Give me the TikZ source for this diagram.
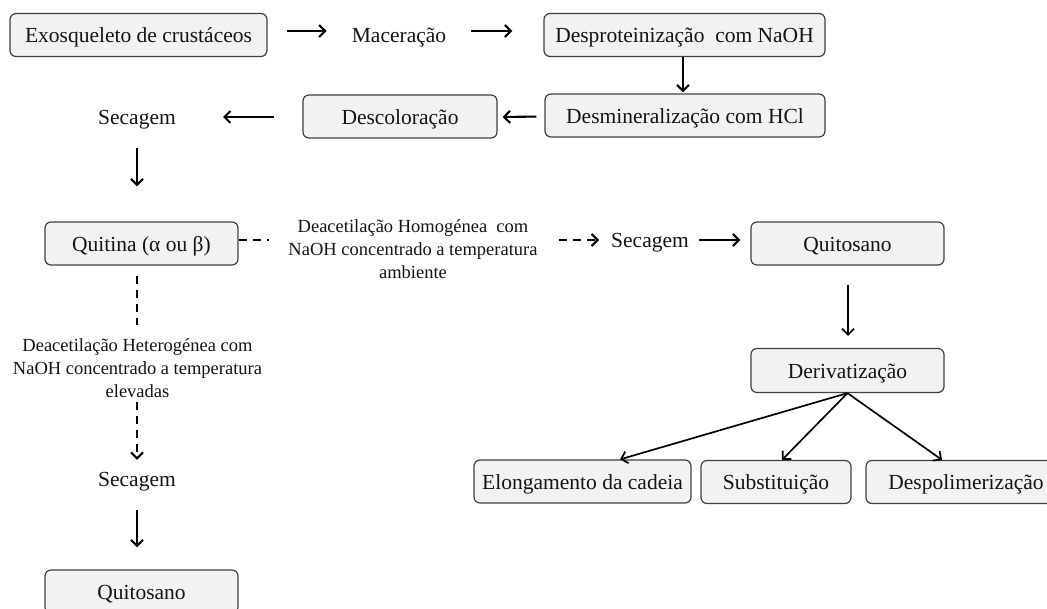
\documentclass[tikz,border=0pt]{standalone}
\usepackage{fontspec}
\setmainfont{Liberation Serif}
\usetikzlibrary{arrows.meta}
\definecolor{boxfill}{HTML}{F2F2F2}
\definecolor{boxline}{HTML}{404040}
\definecolor{ink}{HTML}{141414}
\begin{document}
\begin{tikzpicture}[x=1pt,y=-1pt,
  every node/.style={text=ink},
  stagebox/.style={draw=boxline, fill=boxfill, line width=1.2pt, rounded corners=6pt,
    minimum height=43pt, inner sep=0pt, text height=15pt, text depth=0pt,
    font=\fontsize{21.5}{24}\selectfont},
  label/.style={inner sep=1pt, text height=15pt, text depth=0pt,
    font=\fontsize{21.5}{24}\selectfont},
  note/.style={inner sep=1pt, align=center, font=\fontsize{18.5}{23}\selectfont},
  flow/.style={draw=black, line width=2.1pt, -{Straight Barb[length=6pt,width=12pt]}},
  thinflow/.style={draw=black, line width=1.7pt, -{Straight Barb[length=6pt,width=12pt]}},
  dashflow/.style={draw=black, line width=2.1pt, dash pattern=on 8pt off 6pt},
]
\useasboundingbox (0,0) rectangle (1047,608);
\clip (0,0) rectangle (1047,608);

% vertical guide of the left column
\coordinate (lx) at (137,0);

% first stages
\node[stagebox, minimum width=257pt] (exo) at (138.5,35) {Exosqueleto de crustáceos};
\node[label] (mac) at (399,35) {Maceração};
\node[stagebox, minimum width=281pt] (desp) at (684.5,35) {Desproteinização\ \ com NaOH};
\node[stagebox, minimum width=280pt] (desm) at (685,115.5) {Desmineralização com HCl};
\node[stagebox, minimum width=194pt] (desc) at (400,116.5) {Descoloração};
\node[label] (sec1) at (137,117) {Secagem};
\node[stagebox, minimum width=193pt] (quit) at (141.5,243.5) {Quitina (α ou β)};

% homogeneous route
\node[note] (hom) at (413,249) {Deacetilação Homogénea\ \ com\\NaOH concentrado a temperatura\\ambiente};
\node[label] (sec2) at (650,240) {Secagem};
\node[stagebox, minimum width=193pt] (qtr) at (847.5,243.5) {Quitosano};
\node[stagebox, minimum width=193pt, minimum height=44pt] (der) at (847.5,370.5) {Derivatização};
\node[stagebox, minimum width=217pt] (elo) at (582.5,481.5) {Elongamento da cadeia};
\node[stagebox, minimum width=150pt] (sub) at (776,482) {Substituição};
\node[stagebox, minimum width=200pt] (dpo) at (966,482) {Despolimerização};

% heterogeneous route
\node[note] (het) at (137.5,368) {Deacetilação Heterogénea com\\NaOH concentrado a temperatura\\elevadas};
\node[label] (sec3) at (137,479) {Secagem};
\node[stagebox, minimum width=193pt] (qtl) at (141.5,591.5) {Quitosano};

% top chain
\draw[flow, shorten <=19pt, shorten >=24pt] ([yshift=4pt]exo.east) -- ([yshift=4pt]mac.west);
\draw[flow, shorten <=24pt, shorten >=31pt] ([yshift=4pt]mac.east) -- ([yshift=4pt]desp.west);
\draw[flow, shorten >=1pt] (desp.south -| 683,0) -- (desm.north -| 683,0);
\draw[flow, shorten <=8pt, shorten >=5pt] ([yshift=-1pt]desm.west) -- ([yshift=-0.5pt]desc.east);
\draw[flow, shorten <=28pt, shorten >=46pt] (desc.west |- sec1) -- (sec1.east);
\draw[flow, shorten <=22.5pt, shorten >=35pt] (sec1.south -| lx) -- (quit.north -| lx);

% homogeneous route connectors
\draw[dashflow] ([yshift=3.5pt]quit.east) -- ([yshift=3.5pt, xshift=30pt]quit.east);
\draw[dashflow, -{Straight Barb[length=6pt,width=12pt]}, shorten <=20pt, shorten >=11pt]
  (hom.east |- sec2) -- (sec2.west);
\draw[flow, shorten <=9pt, shorten >=10pt] (sec2.east) -- (qtr.west |- sec2);
\draw[thinflow, shorten <=19pt, shorten >=12pt] (qtr.south -| 848,0) -- (der.north -| 848,0);
\draw[thinflow] (der.south) -- ([xshift=37.5pt]elo.north);
\draw[thinflow] (der.south) -- ([xshift=6pt]sub.north);
\draw[thinflow] (der.south) -- ([xshift=-24pt]dpo.north);

% heterogeneous route connectors
\draw[dashflow, shorten <=10pt, shorten >=12pt] (quit.south -| lx) -- (het.north -| lx);
\draw[dashflow, -{Straight Barb[length=6pt,width=12pt]}, shorten <=3pt, shorten >=10.5pt]
  (het.south -| lx) -- (sec3.north -| lx);
\draw[flow, shorten <=22.5pt, shorten >=22pt] (sec3.south -| lx) -- (qtl.north -| lx);
\end{tikzpicture}
\end{document}
